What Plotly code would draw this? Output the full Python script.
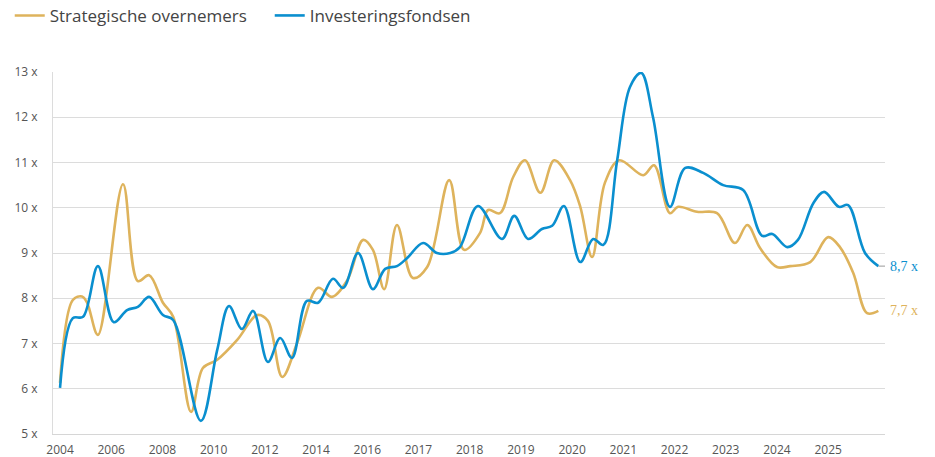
import plotly.graph_objects as go

# Axis positions (one unit = one labelled tick) and values
tick_labels = ["2004", "2006", "2008", "2010", "2012", "2014", "2016", "2017",
               "2018", "2019", "2020", "2021", "2022", "2023", "2024", "2025"]
y_ticks = [5, 6, 7, 8, 9, 10, 11, 12, 13]

strat_x = [0.00, 0.25, 0.43, 0.53, 0.74, 1.23, 1.52, 1.74, 2.01, 2.21, 2.56, 2.79,
           3.07, 3.46, 3.85, 4.06, 4.34, 4.63, 5.04, 5.31, 5.61, 5.92, 6.11, 6.33,
           6.58, 6.89, 7.17, 7.60, 7.89, 8.20, 8.36, 8.59, 8.85, 9.08, 9.38, 9.65,
           9.96, 10.16, 10.39, 10.64, 10.92, 11.39, 11.60, 11.91, 12.07, 12.44,
           12.83, 13.18, 13.42, 13.67, 14.00, 14.26, 14.65, 15.00, 15.23, 15.49,
           15.76, 15.98]
strat_y = [6.13, 7.96, 8.04, 7.90, 7.19, 10.52, 8.38, 8.51, 7.90, 7.59, 5.49, 6.46,
           6.64, 7.08, 7.63, 7.50, 6.26, 7.01, 8.23, 8.03, 8.40, 9.29, 9.07, 8.20,
           9.62, 8.45, 8.69, 10.61, 9.07, 9.44, 9.95, 9.88, 10.68, 11.05, 10.33, 11.05,
           10.61, 10.02, 8.91, 10.55, 11.05, 10.72, 10.94, 9.88, 10.02, 9.91,
           9.88, 9.22, 9.62, 9.11, 8.69, 8.71, 8.80, 9.35, 9.13, 8.56,
           7.67, 7.72]

fonds_x = [0.00, 0.25, 0.45, 0.74, 1.05, 1.31, 1.52, 1.74, 2.01, 2.21, 2.75, 3.07,
           3.30, 3.55, 3.77, 4.06, 4.30, 4.53, 4.82, 5.04, 5.33, 5.53, 5.82, 6.11,
           6.35, 6.58, 6.78, 7.09, 7.36, 7.62, 7.81, 8.16, 8.63, 8.87, 9.14, 9.41,
           9.61, 9.84, 10.16, 10.41, 10.61, 10.88, 11.13, 11.35, 11.58, 11.91, 12.21,
           12.56, 12.95, 13.34, 13.71, 13.91, 14.20, 14.41, 14.71, 14.92, 15.21,
           15.39, 15.72, 15.98]
fonds_y = [6.02, 7.56, 7.59, 8.71, 7.47, 7.74, 7.81, 8.03, 7.63, 7.52, 5.29, 6.86,
           7.83, 7.32, 7.72, 6.59, 7.12, 6.68, 7.94, 7.90, 8.43, 8.23, 9.00, 8.20,
           8.65, 8.71, 8.89, 9.22, 9.00, 9.00, 9.13, 10.04, 9.31, 9.82, 9.31, 9.53,
           9.60, 10.04, 8.80, 9.31, 9.18, 11.05, 12.67, 12.98, 12.00, 10.02, 10.88,
           10.77, 10.50, 10.39, 9.38, 9.42, 9.13, 9.29, 10.10, 10.35, 10.02,
           10.06, 9.00, 8.71]

end_labels = ["7,7 x", "8,7 x"]

GOLD = "#DEB35C"
BLUE = "#0A8FCF"

fig = go.Figure()
fig.add_trace(go.Scatter(x=strat_x, y=strat_y, mode="lines", name="Strategische overnemers",
                         line=dict(color=GOLD, width=2.6, shape="spline", smoothing=1.0)))
fig.add_trace(go.Scatter(x=fonds_x, y=fonds_y, mode="lines", name="Investeringsfondsen",
                         line=dict(color=BLUE, width=2.6, shape="spline", smoothing=1.0)))

fig.add_annotation(x=strat_x[-1], y=strat_y[-1], text=end_labels[0], showarrow=False,
                   xanchor="left", yanchor="middle", xshift=10,
                   font=dict(family="Liberation Serif", size=14, color=GOLD))
fig.add_annotation(x=fonds_x[-1], y=fonds_y[-1], text=end_labels[1], showarrow=False,
                   xanchor="left", yanchor="middle", xshift=10,
                   font=dict(family="Liberation Serif", size=14, color=BLUE))
fig.add_shape(type="line", x0=fonds_x[-1], x1=fonds_x[-1] + 0.16, y0=fonds_y[-1], y1=fonds_y[-1],
              line=dict(color="#999999", width=1))

fig.update_layout(
    width=935, height=457,
    margin=dict(l=53, r=50, t=72, b=23, autoexpand=False),
    paper_bgcolor="white", plot_bgcolor="white",
    font=dict(family="Open Sans", color="#555555"),
    showlegend=True,
    legend=dict(orientation="h", x=-0.052, y=1.155, xanchor="left", yanchor="middle",
                font=dict(size=17, color="#444444"), itemwidth=30,
                entrywidth=215, entrywidthmode="pixels", bgcolor="rgba(0,0,0,0)"),
    xaxis=dict(range=[-0.137, 16.11], tickmode="array", tickvals=list(range(len(tick_labels))),
               ticktext=tick_labels, showgrid=False, zeroline=False,
               showline=True, linecolor="#D6D6D6", linewidth=1,
               ticks="", automargin=False, ticklabelstandoff=5,
               tickfont=dict(size=12, color="#555555")),
    yaxis=dict(range=[5, 13], tickmode="array", tickvals=y_ticks,
               ticktext=[f"{v} x" for v in y_ticks],
               showgrid=True, gridcolor="#DCDCDC", gridwidth=1, zeroline=False,
               showline=True, linecolor="#DCDCDC", linewidth=1, ticks="", automargin=False,
               ticklabelstandoff=12, tickfont=dict(size=12, color="#555555")),
)

fig.write_html("out.html")
